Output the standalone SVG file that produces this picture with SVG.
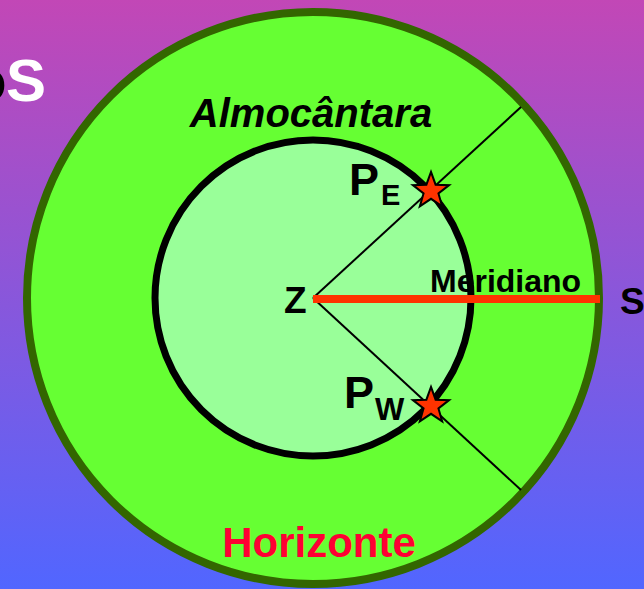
<svg xmlns="http://www.w3.org/2000/svg" width="644" height="589" viewBox="0 0 644 589">
<defs>
<linearGradient id="bg" x1="0" y1="0" x2="0" y2="1">
<stop offset="0" stop-color="#c247b6"/>
<stop offset="1" stop-color="#5166ff"/>
</linearGradient>
<path id="star" d="M0,-17 L4.11,-5.66 L16.17,-5.25 L6.66,2.16 L9.99,13.75 L0,7 L-9.99,13.75 L-6.66,2.16 L-16.17,-5.25 L-4.11,-5.66 Z"/>
</defs>
<style>
text{font-family:"Liberation Sans",Arial,sans-serif;font-weight:bold;}
.lbl{fill:#000;}
.star{fill:#ff3300;stroke:#000;stroke-width:1.8;stroke-linejoin:miter;}
.ray{stroke:#000;stroke-width:2;fill:none;}
</style>
<rect x="0" y="0" width="644" height="589" fill="url(#bg)"/>
<text x="-30" y="101" font-size="60" fill="#000">o</text>
<text x="6" y="101" font-size="60" fill="#fff">S</text>
<g id="horizonte">
<circle cx="313" cy="298" r="286" fill="#66ff33" stroke="#336600" stroke-width="8"/>
<text x="319" y="557" font-size="42" fill="#ff0033" text-anchor="middle">Horizonte</text>
</g>
<g id="almocantara">
<circle cx="313" cy="298" r="158" fill="#99ff99" stroke="#000" stroke-width="7"/>
<text x="311" y="127" font-size="40" font-style="italic" class="lbl" text-anchor="middle">Almocântara</text>
</g>
<g id="connectors">
<line class="ray" x1="313" y1="298" x2="521" y2="107"/>
<line class="ray" x1="313" y1="298" x2="521" y2="490"/>
<line x1="313" y1="299" x2="600" y2="299" stroke="#ff3300" stroke-width="8"/>
</g>
<g id="Z">
<text x="284" y="313" font-size="37" class="lbl">Z</text>
</g>
<g id="meridiano">
<text x="430" y="292" font-size="32" class="lbl">Meridiano</text>
</g>
<g id="S">
<text x="620" y="314" font-size="37" class="lbl">S</text>
</g>
<g id="PE">
<use href="#star" class="star" transform="translate(431,191) scale(1.12)"/>
<text x="349" y="195" font-size="45" class="lbl">P</text>
<text x="381" y="205" font-size="29" class="lbl">E</text>
</g>
<g id="PW">
<use href="#star" class="star" transform="translate(431,406) scale(1.12)"/>
<text x="344" y="408" font-size="45" class="lbl">P</text>
<text x="375" y="420" font-size="31" class="lbl">W</text>
</g>
</svg>
